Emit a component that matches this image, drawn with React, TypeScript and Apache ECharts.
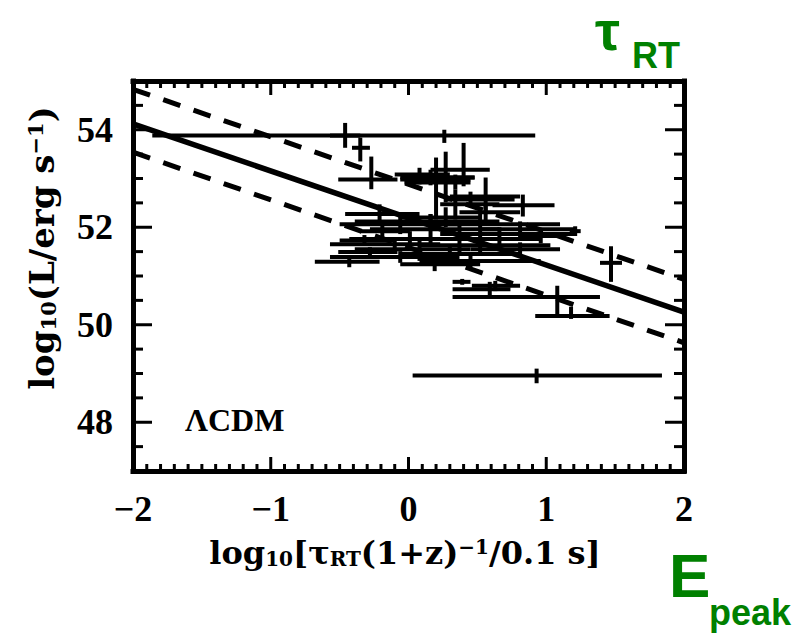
import { useEffect, useRef } from 'react';
import * as echarts from 'echarts';

// log10 of rest-frame rise time (centre, lower and upper error limits)
const logTau = [0.26, -0.46, -0.35, -0.27, 0.83, 1.21, 1.47, 1.08, 1.18, 0.93, 0.59, 0.20, 0.27, 0.40, 0.56, 0.08, 0.34, -0.06, -0.21, 0.16, 0.37, 0.52, 0.66, 0.30, 0.08, -0.28, -0.43, 0.81, 0.45, 0.01, 0.27, 0.96, 0.19, -0.19, -0.32, 0.56, 0.39, 0.63, 0.16, 0.34, -0.06, 0.16, 0.52, 0.81, -0.10, 0.45];
const logTauLo = [-1.86, -0.57, -0.41, -0.51, 0.61, 1.17, 1.39, 0.32, 0.92, 0.03, 0.32, -0.06, 0.01, 0.16, 0.30, -0.10, 0.23, -0.50, -0.46, -0.28, -0.06, 0.16, 0.23, -0.06, -0.39, -0.51, -0.68, 0.45, 0.08, -0.43, -0.06, 0.81, -0.06, -0.35, -0.50, 0.37, 0.32, 0.46, -0.06, -0.03, -0.57, -0.39, 0.08, 0.52, -0.57, 0.27];
const logTauHi = [0.92, -0.35, -0.28, -0.08, 1.06, 1.25, 1.55, 1.39, 1.46, 1.84, 0.74, 0.45, 0.48, 0.59, 0.81, 0.30, 0.66, 0.37, 0.08, 0.66, 0.96, 1.10, 1.21, 0.81, 0.45, -0.08, -0.21, 1.10, 0.96, 0.41, 0.52, 1.14, 0.52, 0.01, -0.10, 0.81, 0.45, 0.81, 0.48, 0.45, 0.37, 0.66, 1.03, 1.21, 0.23, 0.77];
// log10 of luminosity (centre, lower and upper error limits)
const logL = [53.88, 53.88, 53.63, 52.98, 52.45, 51.92, 51.27, 50.57, 50.18, 48.96, 50.73, 52.98, 53.02, 53.18, 52.63, 53.08, 52.47, 52.06, 52.27, 51.96, 51.76, 52.06, 51.86, 51.45, 51.55, 51.49, 51.29, 51.55, 51.31, 51.76, 52.20, 51.82, 51.24, 51.92, 51.73, 52.31, 50.88, 50.80, 53.02, 52.92, 51.39, 52.12, 51.63, 51.96, 51.65, 52.57];
const logLLo = [53.73, 53.63, 53.35, 52.78, 52.22, 51.82, 50.88, 50.22, 50.12, 48.80, 50.53, 52.16, 52.51, 52.84, 52.27, 52.88, 52.16, 51.86, 52.06, 51.65, 51.45, 51.76, 51.65, 51.24, 51.31, 51.39, 51.18, 51.39, 51.18, 51.59, 52.00, 51.67, 51.10, 51.76, 51.63, 52.12, 50.82, 50.69, 52.86, 52.78, 51.27, 51.96, 51.45, 51.80, 51.51, 52.41];
const logLHi = [54.00, 54.14, 53.84, 53.45, 52.67, 52.02, 51.61, 50.80, 50.37, 49.10, 50.88, 53.43, 53.55, 53.73, 53.02, 53.22, 52.78, 52.27, 52.47, 52.27, 52.06, 52.37, 52.00, 51.65, 51.76, 51.59, 51.39, 51.69, 51.45, 51.92, 52.41, 51.96, 51.39, 52.06, 51.84, 52.47, 50.94, 50.90, 53.18, 53.08, 51.51, 52.27, 51.80, 52.12, 51.80, 52.73];

// best-fit relation and its scatter band
const fitX = [-2, 2];
const fitMid = [54.12, 50.26];
const fitUpper = [54.83, 50.93];
const fitLower = [53.54, 49.63];

// frame tick marks: 0.1 steps along x (long at whole numbers), 0.5 steps along y (long at labelled values)
const X_MIN = -2;
const X_MAX = 2;
const Y_MIN = 47;
const Y_MAX = 55;
const xTickValues = Array.from({ length: 41 }, (_, i) => Math.round((X_MIN + i * 0.1) * 10) / 10);
const yTickValues = Array.from({ length: 17 }, (_, i) => Y_MIN + i * 0.5);
const yLabelValues = [48, 50, 52, 54];

const SERIF = '"Liberation Serif", "Times New Roman", serif';
const TITLE_FONT = '"DejaVu Serif", serif';
const SANS = '"Liberation Sans", Arial, sans-serif';
const GREEN = '#008000';

const titleRich = (size: number, subSize: number) => ({
  m: { fontSize: size, fontWeight: 'bold', fontFamily: TITLE_FONT, fill: '#000', lineHeight: size },
  sub: { fontSize: subSize, fontWeight: 'bold', fontFamily: TITLE_FONT, fill: '#000', lineHeight: subSize, verticalAlign: 'bottom', padding: [16, 0, 0, 0] },
  sup: { fontSize: subSize, fontWeight: 'bold', fontFamily: TITLE_FONT, fill: '#000', lineHeight: subSize, verticalAlign: 'top', padding: [0, 0, 16, 0] },
});

const textGraphics = [
  {
    type: 'text',
    x: 185,
    y: 420,
    style: { text: 'ΛCDM', fill: '#000', fontSize: 32, fontWeight: 'bold', fontFamily: SERIF, align: 'left', verticalAlign: 'middle' },
  },
  {
    type: 'text',
    x: 405,
    y: 553,
    style: {
      text: '{m|log}{sub|10}{m|[τ}{sub|RT}{m|(1+z)}{sup|\u22121}{m|/0.1 s]}',
      rich: titleRich(32, 20),
      align: 'center',
      verticalAlign: 'middle',
    },
  },
  {
    type: 'text',
    x: 42,
    y: 248,
    rotation: Math.PI / 2,
    style: {
      text: '{m|log}{sub|10}{m|(L/erg s}{sup|\u22121}{m|)}',
      rich: titleRich(34, 21),
      align: 'center',
      verticalAlign: 'middle',
    },
  },
  {
    type: 'text',
    x: 595,
    y: 30,
    style: { text: 'τ', fill: GREEN, fontSize: 56, lineHeight: 40, fontWeight: 'bold', fontFamily: SANS, align: 'left', verticalAlign: 'middle' },
  },
  {
    type: 'text',
    x: 632,
    y: 55,
    style: { text: 'RT', fill: GREEN, fontSize: 36, fontWeight: 'bold', fontFamily: SANS, align: 'left', verticalAlign: 'middle' },
  },
  {
    type: 'text',
    x: 669,
    y: 575,
    style: { text: 'E', fill: GREEN, fontSize: 62, fontWeight: 'bold', fontFamily: SANS, align: 'left', verticalAlign: 'middle' },
  },
  {
    type: 'text',
    x: 709,
    y: 612,
    style: { text: 'peak', fill: GREEN, fontSize: 36, fontWeight: 'bold', fontFamily: SANS, align: 'left', verticalAlign: 'middle' },
  },
];

export default function App() {
  const ref = useRef<HTMLDivElement>(null);

  useEffect(() => {
    if (!ref.current) return;
    const chart = echarts.init(ref.current, null, { renderer: 'svg' });

    const rows = logTau.map((x, i) => [x, logTauLo[i], logTauHi[i], logL[i], logLLo[i], logLHi[i]]);
    const fitLine = (ys: number[]) => fitX.map((x, i) => [x, ys[i]]);

    // tick base on the frame edge + inward direction (dx, dy in pixels)
    const tickRows: number[][] = [];
    xTickValues.forEach((v) => {
      const len = Number.isInteger(v) ? 14 : 7;
      tickRows.push([v, Y_MIN, 0, -len], [v, Y_MAX, 0, len]);
    });
    yTickValues.forEach((v) => {
      const len = yLabelValues.includes(v) ? 19 : 10;
      tickRows.push([X_MIN, v, len, 0], [X_MAX, v, -len, 0]);
    });

    const frameLine = { show: true, onZero: false, lineStyle: { color: '#000', width: 5, cap: 'square' } };
    const labelStyle = { color: '#000', fontFamily: SERIF, fontWeight: 'bold', fontSize: 36, margin: 20 };

    const dashed = {
      type: 'line',
      xAxisIndex: 0,
      yAxisIndex: 0,
      symbol: 'none',
      silent: true,
      clip: true,
      lineStyle: { color: '#000', width: 5, type: [18, 14] },
    };

    chart.setOption({
      animation: false,
      backgroundColor: '#fff',
      grid: { left: 133, right: 120, top: 81, bottom: 164, show: false },
      xAxis: [
        {
          type: 'value',
          position: 'bottom',
          min: X_MIN,
          max: X_MAX,
          interval: 1,
          axisLine: frameLine,
          axisTick: { show: false },
          splitLine: { show: false },
          axisLabel: { ...labelStyle, formatter: (v: number) => String(v).replace('-', '\u2212') },
        },
        {
          type: 'value',
          position: 'top',
          min: X_MIN,
          max: X_MAX,
          interval: 1,
          axisLine: frameLine,
          axisTick: { show: false },
          splitLine: { show: false },
          axisLabel: { show: false },
        },
      ],
      yAxis: [
        {
          type: 'value',
          position: 'left',
          min: Y_MIN,
          max: Y_MAX,
          interval: 0.5,
          axisLine: frameLine,
          axisTick: { show: false },
          splitLine: { show: false },
          axisLabel: { ...labelStyle, formatter: (v: number) => (yLabelValues.includes(v) ? String(v) : '') },
        },
        {
          type: 'value',
          position: 'right',
          min: Y_MIN,
          max: Y_MAX,
          interval: 0.5,
          axisLine: frameLine,
          axisTick: { show: false },
          splitLine: { show: false },
          axisLabel: { show: false },
        },
      ],
      graphic: textGraphics,
      series: [
        {
          type: 'custom',
          name: 'GRBs',
          xAxisIndex: 0,
          yAxisIndex: 0,
          clip: true,
          silent: true,
          data: rows,
          encode: { x: [0, 1, 2], y: [3, 4, 5] },
          renderItem: (_params: any, api: any) => {
            const x = api.value(0);
            const y = api.value(3);
            const left = api.coord([api.value(1), y]);
            const right = api.coord([api.value(2), y]);
            const bottom = api.coord([x, api.value(4)]);
            const top = api.coord([x, api.value(5)]);
            const style = { stroke: '#000', lineWidth: 4 };
            return {
              type: 'group',
              children: [
                { type: 'line', shape: { x1: left[0], y1: left[1], x2: right[0], y2: right[1] }, style },
                { type: 'line', shape: { x1: top[0], y1: top[1], x2: bottom[0], y2: bottom[1] }, style },
              ],
            };
          },
        },
        {
          type: 'line',
          name: 'fit',
          xAxisIndex: 0,
          yAxisIndex: 0,
          symbol: 'none',
          silent: true,
          clip: true,
          data: fitLine(fitMid),
          lineStyle: { color: '#000', width: 5.5 },
        },
        { ...dashed, name: 'upper', data: fitLine(fitUpper) },
        { ...dashed, name: 'lower', data: fitLine(fitLower) },
      ],
    });

    // inward tick marks on all four sides, placed through the grid's own scales
    const tickGraphics = tickRows.map((t) => {
      const p = chart.convertToPixel({ gridIndex: 0 }, [t[0], t[1]]) as number[];
      return {
        type: 'line',
        silent: true,
        z: 50,
        shape: { x1: p[0], y1: p[1], x2: p[0] + t[2], y2: p[1] + t[3] },
        style: { stroke: '#000', lineWidth: 3 },
      };
    });
    chart.setOption({ graphic: [...textGraphics, ...tickGraphics] });

    return () => chart.dispose();
  }, []);

  return (
    <div
      ref={ref}
      style={{ position: 'absolute', left: 0, top: 0, width: 804, height: 635, background: '#fff' }}
    />
  );
}
